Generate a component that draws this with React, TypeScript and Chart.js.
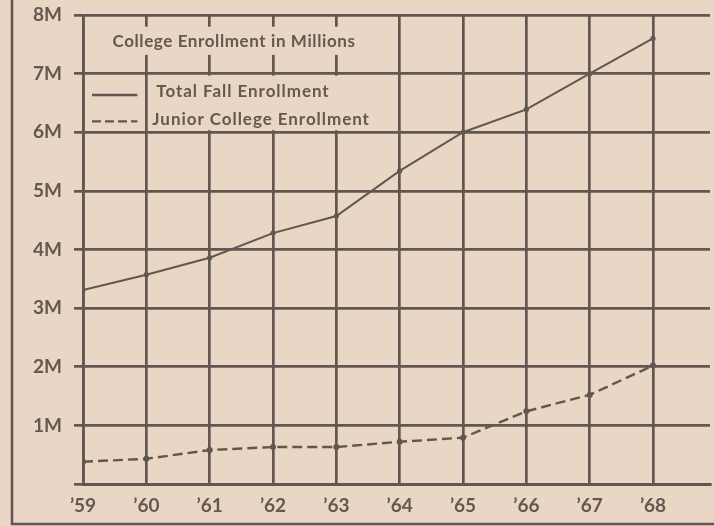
import React, { useEffect, useRef } from "react";
import { Chart, registerables } from "chart.js";

Chart.register(...registerables);

// ---- data (millions) ----
const years = [1959, 1960, 1961, 1962, 1963, 1964, 1965, 1966, 1967, 1968];
const totalEnrollment = [3.31, 3.57, 3.86, 4.28, 4.57, 5.34, 6.0, 6.39, 7.0, 7.6];
const juniorEnrollment = [0.38, 0.43, 0.58, 0.63, 0.63, 0.72, 0.79, 1.24, 1.52, 2.02];
const yTickValues = [0, 1, 2, 3, 4, 5, 6, 7, 8];
const chartTitle = "College Enrollment in Millions";
const seriesNames = ["Total Fall Enrollment", "Junior College Enrollment"];

const BG = "rgb(233,214,196)";
const INK = "rgb(98,87,80)";
const TEXT = "rgb(100,88,80)";
const FONT = "Lato, 'DejaVu Sans', sans-serif";

export default function App() {
  const ref = useRef<HTMLCanvasElement | null>(null);

  useEffect(() => {
    document.body.style.margin = "0";
    const canvas = ref.current!;
    const bgPlugin = {
      id: "paper",
      beforeDraw(chart: any) {
        const { ctx, width, height } = chart;
        ctx.save();
        ctx.fillStyle = BG;
        ctx.fillRect(0, 0, width, height);
        ctx.strokeStyle = INK;
        ctx.lineWidth = 2.5;
        ctx.beginPath();
        ctx.moveTo(12, 0);
        ctx.lineTo(12, height - 2);
        ctx.lineTo(width, height - 2);
        ctx.stroke();
        ctx.restore();
      },
    };
    const legendPlugin = {
      id: "legendBox",
      beforeDatasetsDraw(chart: any) {
        const { ctx } = chart;
        const xs = chart.scales.x;
        const ys = chart.scales.y;
        const x0 = xs.getPixelForValue(years[0]);
        const x1 = xs.getPixelForValue(years[1]);
        const x5 = xs.getPixelForValue(years[5]);
        ctx.save();
        ctx.fillStyle = BG;
        // title strip
        const tTop = ys.getPixelForValue(7.8);
        const tBot = ys.getPixelForValue(7.32);
        ctx.fillRect(x0 + 2, tTop, x5 - x0 - 4, tBot - tTop);
        // entries box
        const eTop = ys.getPixelForValue(7) + 2;
        const eBot = ys.getPixelForValue(6) - 2;
        ctx.fillRect(x1 + 2, eTop, x5 - x1 - 4, eBot - eTop);
        ctx.fillRect(x0 + 2, eTop, x1 - x0 - 4, eBot - eTop);

        ctx.fillStyle = TEXT;
        ctx.textBaseline = "middle";
        ctx.font = `bold 17px ${FONT}`;
        (ctx as any).letterSpacing = "0.6px";
        ctx.textAlign = "center";
        ctx.fillText(chartTitle, 234, (tTop + tBot) / 2 + 1);
        (ctx as any).letterSpacing = "0.95px";
        ctx.textAlign = "left";
        const r1 = eTop + (eBot - eTop) * 0.3;
        const r2 = eTop + (eBot - eTop) * 0.8;
        ctx.fillText(seriesNames[0], x1 + 10, r1);
        ctx.fillText(seriesNames[1], x1 + 6, r2);
        ctx.strokeStyle = INK;
        ctx.lineWidth = 2.4;
        ctx.beginPath();
        ctx.moveTo(x0 + 9, r1 + 3);
        ctx.lineTo(x1 - 9, r1 + 3);
        ctx.stroke();
        ctx.setLineDash([9, 4]);
        ctx.beginPath();
        ctx.moveTo(x0 + 9, r2 + 2);
        ctx.lineTo(x1 - 9, r2 + 2);
        ctx.stroke();
        ctx.restore();
      },
    };

    const chart = new Chart(canvas, {
      type: "line",
      data: {
        datasets: [
          {
            label: seriesNames[0],
            data: years.map((y, i) => ({ x: y, y: totalEnrollment[i] })),
            borderColor: INK,
            backgroundColor: INK,
            borderWidth: 2,
            pointRadius: 2.6,
            pointBorderWidth: 0,
            tension: 0,
          },
          {
            label: seriesNames[1],
            data: years.map((y, i) => ({ x: y, y: juniorEnrollment[i] })),
            borderColor: INK,
            backgroundColor: INK,
            borderWidth: 2.4,
            borderDash: [10, 5],
            pointRadius: 3,
            pointBorderWidth: 0,
            tension: 0,
          },
        ],
      },
      options: {
        animation: false,
        responsive: false,
        devicePixelRatio: 1,
        layout: { padding: { top: 15, right: 0, left: 0, bottom: 0 } },
        plugins: {
          legend: { display: false },
          tooltip: { enabled: false },
          title: { display: false },
        },
        scales: {
          x: {
            type: "linear",
            min: years[0],
            max: years[years.length - 1] + 0.9,
            afterFit(scale: any) {
              scale.height = 42;
              scale.paddingLeft = 0;
              scale.paddingRight = 0;
            },
            afterBuildTicks(scale: any) {
              scale.ticks = years.map((v) => ({ value: v }));
            },
            grid: {
              color: INK,
              lineWidth: 2.7,
              drawTicks: false,
            },
            border: { display: true, color: INK, width: 2.9 },
            ticks: {
              color: TEXT,
              padding: 10,
              maxRotation: 0,
              font: { family: FONT, size: 19, weight: "bold" },
              callback: (v: any) => "\u2019" + String(v).slice(2),
            },
          },
          y: {
            type: "linear",
            min: 0,
            max: 8,
            afterFit(scale: any) {
              scale.width = 83;
              scale.paddingTop = 0;
              scale.paddingBottom = 0;
            },
            afterBuildTicks(scale: any) {
              scale.ticks = yTickValues.map((v) => ({ value: v }));
            },
            grid: {
              color: INK,
              lineWidth: 2.7,
              tickLength: 9,
            },
            border: { display: true, color: INK, width: 2.7 },
            ticks: {
              color: TEXT,
              padding: 12,
              font: { family: FONT, size: 19, weight: "bold" },
              callback: (v: any) => (v === 0 ? "" : v + "M"),
            },
          },
        },
      },
      plugins: [bgPlugin, legendPlugin],
    });
    return () => chart.destroy();
  }, []);

  return (
    <div style={{ width: 714, height: 526, overflow: "hidden" }}>
      <canvas ref={ref} width={714} height={526} style={{ display: "block", width: 714, height: 526 }} />
    </div>
  );
}
